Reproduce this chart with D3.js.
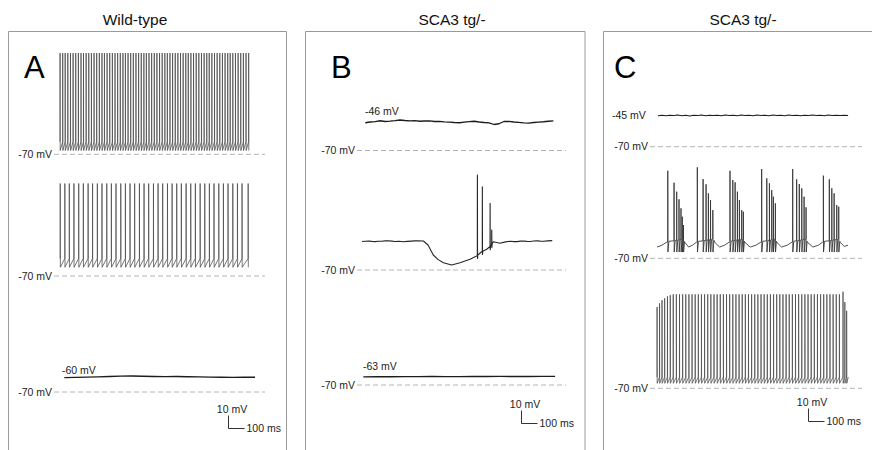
<html>
<head>
<script src="https://d3js.org/d3.v7.min.js"></script>
<style>
body { margin: 0; padding: 0; background: #fff; }
svg { display: block; background: #fff; font-family: Arial, "Liberation Sans", sans-serif; }
.frame { fill: none; stroke: #9a9a9a; stroke-width: 1; }
.rest { fill: none; stroke: #b4b4b4; stroke-width: 1; stroke-dasharray: 5,3; }
.trace { fill: none; stroke-linejoin: round; }
.lbl { font-size: 10.5px; fill: #222; }
.bar { fill: none; stroke: #333; stroke-width: 1; }
</style>
</head>
<body>
<script>
// ---- text ----
var titles = ["Wild-type", "SCA3 tg/-", "SCA3 tg/-"];
var letters = ["A", "B", "C"];
var restLabel = "-70 mV";
var restMv = -70;
var barMv = 10, barMs = 100;
var barLabels = ["10 mV", "100 ms"];

// ---- A: wild-type ----
// top: tonic firing, spike times (ms)
var aTopSpikeT = [0, 16, 31, 47, 63, 79, 95, 111, 127, 142, 158, 174, 190, 206, 222, 238, 254, 269,
  285, 301, 317, 333, 349, 365, 381, 396, 412, 428, 444, 460, 476, 492, 508, 523, 539, 555, 571,
  587, 603, 619, 635, 650, 666, 682, 698, 714, 730, 746, 762, 777, 793, 809, 825, 841, 857, 873,
  889, 904, 920, 936, 952, 968, 984, 1000, 1016, 1031, 1047, 1063, 1079, 1095, 1111, 1127, 1143];
var aTopPeak = 11, aTopThr = -60, aTopTrough = -67;
// middle: slower tonic firing
var aMidSpikeT = [1, 29, 56, 84, 113, 141, 170, 197, 226, 254, 283, 311, 339, 368, 396, 424, 452,
  481, 509, 537, 566, 594, 622, 651, 679, 707, 735, 764, 792, 820, 849, 877, 905, 933, 962, 990,
  1018, 1047, 1075, 1103, 1140];
var aMidPeak = 4, aMidThr = -56, aMidTrough = -63;
// bottom: silent, sampled every 68 ms from 26 ms
var aBotT0 = 26, aBotDt = 68;
var aBotV = [-58.5, -58.3, -58.1, -57.9, -57.6, -57.3, -57.2, -57.4, -57.6, -57.7, -57.6, -57.8,
  -57.9, -58.1, -58.2, -58.3, -58.2, -58.2];
var aBotLabel = "-60 mV", aBotLabelMv = -60;

// ---- B: SCA3 tg/- ----
var bTopT0 = 20, bTopDt = 30;
var bTopV = [-47.8, -47.2, -46.9, -46.2, -46.8, -46.5, -46.1, -45.6, -46.0, -46.3, -46.1, -46.6,
  -46.4, -46.3, -46.8, -46.7, -47.1, -47.3, -47.6, -47.8, -47.3, -46.9, -46.6, -47.2, -47.6, -47.9,
  -49.2, -48.6, -46.8, -46.7, -47.2, -47.5, -47.9, -48.1, -47.6, -47.3, -47.0, -46.6, -46.3];
var bTopLabel = "-46 mV", bTopLabelMv = -46;
// middle: hyperpolarising dip followed by rebound spikes
var bMidBaseT = [0, 20, 40, 60, 80, 100, 120, 140, 160, 180, 200, 225, 250, 275, 300, 320, 340, 372,
  400, 432, 460, 493, 543, 594, 655, 695, 725, 756, 780, 796, 836, 870, 900, 920, 940, 960, 980,
  1000, 1020, 1040, 1060, 1080, 1100, 1125, 1153];
var bMidBaseV = [-47.2, -47.0, -46.8, -47.1, -47.3, -47.0, -47.0, -46.7, -46.6, -46.9, -47.2, -47.0,
  -47.4, -47.1, -46.9, -46.7, -46.6, -46.8, -50, -58, -61.5, -64.2, -66, -64.2, -61.4, -58.8, -55.4,
  -53.4, -50.8, -47.4, -48.6, -47.5, -47.0, -47.3, -47.3, -46.9, -46.8, -47.1, -47.2, -46.8, -46.6,
  -46.9, -47.0, -46.7, -46.5];
var bMidSpikeT = [699, 729, 776, 786];
var bMidSpikeV = [6, -3.4, -16.6, -38];
// bottom: silent
var bBotT0 = 8, bBotDt = 83;
var bBotV = [-63.5, -63.4, -63.4, -63.3, -63.3, -63.2, -63.3, -63.3, -63.2, -63.2, -63.1, -63.2,
  -63.2, -63.1, -63.1];
var bBotLabel = "-63 mV", bBotLabelMv = -63;

// ---- C: SCA3 tg/- ----
var cTopT0 = 6, cTopDt = 24;
var cTopV = [-45.2, -44.8, -45.3, -44.9, -45.1, -44.6, -45.2, -44.9, -45.4, -44.8, -45.0, -44.7,
  -45.3, -44.8, -45.1, -44.9, -45.3, -44.6, -45.0, -44.8, -45.2, -44.7, -45.1, -44.9, -45.3, -44.7,
  -45.0, -44.8, -45.2, -44.6, -45.1, -44.9, -45.2, -44.7, -45.0, -44.8, -45.3, -44.9, -45.1, -44.6,
  -45.0, -44.8, -45.2, -44.7, -45.1, -44.9, -45.0, -44.8, -45.1];
var cTopLabel = "-45 mV", cTopLabelMv = -45;
// middle: bursting on a slow wave
var cMidBaseT = [0, 30, 60, 65, 100, 160, 170, 192, 215, 240, 244, 280, 341, 352, 380, 410, 438, 442,
  460, 523, 534, 565, 600, 630, 634, 665, 717, 728, 755, 790, 818, 822, 846, 903, 914, 945, 978,
  1004, 1008, 1044, 1101, 1112, 1135, 1158];
var cMidBaseV = [-61, -59.5, -57, -56.5, -56, -54.5, -57.5, -61, -59.5, -57, -56.5, -56, -54.5, -57.5,
  -61, -59.5, -57, -56.5, -56, -54.5, -57.5, -61, -59.5, -57, -56.5, -56, -54.5, -57.5, -61, -59.5,
  -57, -56.5, -56, -54.5, -57.5, -61, -59.5, -57, -56.5, -56, -54.5, -57.5, -60.5, -59.5];
var cMidSpikeT = [65, 103, 119, 133, 145, 153, 160,
  244, 279, 297, 311, 324, 338,
  442, 459, 473, 487, 499, 513, 523,
  634, 665, 681, 695, 705, 717,
  822, 846, 862, 877, 891, 903,
  1008, 1044, 1059, 1073, 1089, 1101];
var cMidSpikeV = [0, -9.5, -16.7, -22.8, -30, -36.7, -43.4,
  2.8, -6.6, -10.8, -18, -23.4, -31.4,
  0, -7.4, -9.2, -16.7, -23.4, -31.4, -32.7,
  1.4, -6, -10, -15.4, -20.7, -26,
  1.4, -6.8, -10.6, -14, -20.7, -29.2,
  -3.9, -6.8, -14, -18, -27.4, -28.7];
var cMidAhp = -65;
// bottom: fast tonic firing
var cBotSpikeT = [0, 15, 30, 46, 63, 80, 98, 117, 136, 155, 174, 193, 212, 231, 250, 269, 288, 307,
  326, 345, 364, 383, 402, 421, 440, 459, 478, 497, 516, 535, 554, 573, 592, 611, 630, 649, 668,
  687, 706, 725, 744, 763, 782, 801, 820, 839, 858, 877, 896, 915, 934, 953, 972, 991, 1010, 1029,
  1048, 1067, 1086, 1105, 1127, 1138, 1149];
var cBotPeakStart = [-5, -2, 0.5, 2, 3.5, 4.5];
var cBotPeak = 5.2;
var cBotPeakEnd = [7.3, -1, -8];
var cBotThr = -61, cBotTrough = -66, cBotEndT = 1159, cBotEndV = -61;

// ---- layout ----
var width = 872, height = 450;
var pxPerMs = 0.165, pxPerMv = 1.25;
var panels = [
  { x0: 8, x1: 286, titleX: 135, letterX: 24, traceX: 60, dash: [54, 265] },
  { x0: 305, x1: 584.5, titleX: 452, letterX: 331, traceX: 362, dash: [357, 566] },
  { x0: 603, x1: 900, titleX: 743, letterX: 614, traceX: 657, dash: [650, 862] }
];
var bars = [[228, 428], [521, 423], [808, 421]];

// ---- waveform builders ----
function sampled(t0, dt, vals) {
  return vals.map(function (v, i) { return [t0 + i * dt, v]; });
}
function tonic(spT, peaks, thr, trough, endT, endV) {
  var pts = [];
  spT.forEach(function (t, i) {
    pts.push([t, thr], [t + 0.4, peaks[i]], [t + 1.2, trough]);
  });
  if (endT != null) pts.push([endT, endV]);
  return pts;
}
function riding(baseT, baseV, spT, spV, ahp, rec) {
  var base = d3.scaleLinear().domain(baseT).range(baseV);
  var win = spT.map(function (t, i) {
    var next = i < spT.length - 1 ? spT[i + 1] - 0.3 : Infinity;
    return [t, Math.min(t + rec, next)];
  });
  var pts = [];
  baseT.forEach(function (t, j) {
    var inside = win.some(function (w) { return t >= w[0] - 0.5 && t <= w[1]; });
    if (!inside) pts.push([t, baseV[j]]);
  });
  spT.forEach(function (t, i) {
    var b = base(t);
    pts.push([t, b], [t + 0.4, spV[i]], [t + 1.2, ahp(b)]);
    var we = win[i][1];
    if (we > t + 1.5) pts.push([we, base(we)]);
  });
  pts.sort(function (a, b) { return a[0] - b[0]; });
  return pts;
}
function fill(n, v) { return d3.range(n).map(function () { return v; }); }

var cBotPeaks = cBotPeakStart
  .concat(fill(cBotSpikeT.length - cBotPeakStart.length - cBotPeakEnd.length, cBotPeak))
  .concat(cBotPeakEnd);

// spiking traces are drawn thin and grey, resting traces dark
var spk = "#4a4a4a", flat = "#1c1c1c";
var traces = [
  { p: 0, y70: 154.3, w: 0.75, c: spk, pts: tonic(aTopSpikeT, fill(aTopSpikeT.length, aTopPeak), aTopThr, aTopTrough) },
  { p: 0, y70: 276, w: 0.75, c: spk, pts: [[0, aMidThr]].concat(tonic(aMidSpikeT, fill(aMidSpikeT.length, aMidPeak), aMidThr, aMidTrough)) },
  { p: 0, y70: 392, w: 1.4, c: flat, pts: sampled(aBotT0, aBotDt, aBotV), label: aBotLabel, labelMv: aBotLabelMv, lx: 62, above: true },
  { p: 1, y70: 150.5, w: 1.3, c: flat, pts: sampled(bTopT0, bTopDt, bTopV), label: bTopLabel, labelMv: bTopLabelMv, lx: 365, above: true },
  { p: 1, y70: 270, w: 1.1, c: "#262626", pts: riding(bMidBaseT, bMidBaseV, bMidSpikeT, bMidSpikeV, function (b) { return b - 2.5; }, 3) },
  { p: 1, y70: 385, w: 1.4, c: flat, pts: sampled(bBotT0, bBotDt, bBotV), label: bBotLabel, labelMv: bBotLabelMv, lx: 363, above: true },
  { p: 2, y70: 146.7, w: 1.1, c: flat, pts: sampled(cTopT0, cTopDt, cTopV), label: cTopLabel, labelMv: cTopLabelMv, lx: 612, above: false },
  { p: 2, y70: 258.3, w: 0.85, c: "#333", pts: riding(cMidBaseT, cMidBaseV, cMidSpikeT, cMidSpikeV, function () { return cMidAhp; }, 7) },
  { p: 2, y70: 388.3, w: 0.75, c: spk, pts: tonic(cBotSpikeT, cBotPeaks, cBotThr, cBotTrough, cBotEndT, cBotEndV) }
];

var svg = d3.select("body").append("svg")
  .attr("width", width)
  .attr("height", height);

// panel frames (open at the bottom, beyond the picture)
panels.forEach(function (pn, i) {
  svg.append("path")
    .attr("class", "frame")
    .attr("d", "M" + (pn.x0 + 0.5) + "," + (height + 5) + "V31.5H" + (pn.x1 + 0.5) + "V" + (height + 5));
  svg.append("text")
    .attr("x", pn.titleX).attr("y", 25)
    .attr("text-anchor", "middle")
    .style("font-size", "15.5px").style("fill", "#111")
    .text(titles[i]);
  svg.append("text")
    .attr("x", pn.letterX).attr("y", 77.5)
    .style("font-size", "31px").style("fill", "#000")
    .text(letters[i]);
});

traces.forEach(function (tr) {
  var pn = panels[tr.p];
  var x = d3.scaleLinear().domain([0, 1000]).range([pn.traceX, pn.traceX + 1000 * pxPerMs]);
  var y = d3.scaleLinear().domain([restMv, restMv + 10]).range([tr.y70, tr.y70 - 10 * pxPerMv]);

  svg.append("line")
    .attr("class", "rest")
    .attr("x1", pn.dash[0]).attr("x2", pn.dash[1])
    .attr("y1", y(restMv)).attr("y2", y(restMv));
  svg.append("text")
    .attr("class", "lbl")
    .attr("x", pn.dash[0] - 2).attr("y", y(restMv) + 3.7)
    .attr("text-anchor", "end")
    .text(restLabel);

  var line = d3.line()
    .x(function (d) { return x(d[0]); })
    .y(function (d) { return y(d[1]); });
  svg.append("path")
    .attr("class", "trace")
    .attr("stroke", tr.c)
    .attr("stroke-width", tr.w)
    .attr("d", line(tr.pts));

  if (tr.label) {
    svg.append("text")
      .attr("class", "lbl")
      .attr("x", tr.lx)
      .attr("y", tr.above ? y(tr.labelMv) - 6 : y(tr.labelMv) + 3.7)
      .text(tr.label);
  }
});

// scale bars
bars.forEach(function (b) {
  var cx = b[0], cy = b[1];
  var h = barMv * pxPerMv, w = barMs * pxPerMs;
  svg.append("path")
    .attr("class", "bar")
    .attr("d", "M" + (cx + 0.5) + "," + (cy - h) + "V" + (cy + 0.5) + "H" + (cx + w));
  svg.append("text")
    .attr("class", "lbl")
    .attr("x", cx + 4).attr("y", cy - h - 3)
    .attr("text-anchor", "middle")
    .text(barLabels[0]);
  svg.append("text")
    .attr("class", "lbl")
    .attr("x", cx + w + 2).attr("y", cy + 4)
    .text(barLabels[1]);
});
</script>
</body>
</html>
